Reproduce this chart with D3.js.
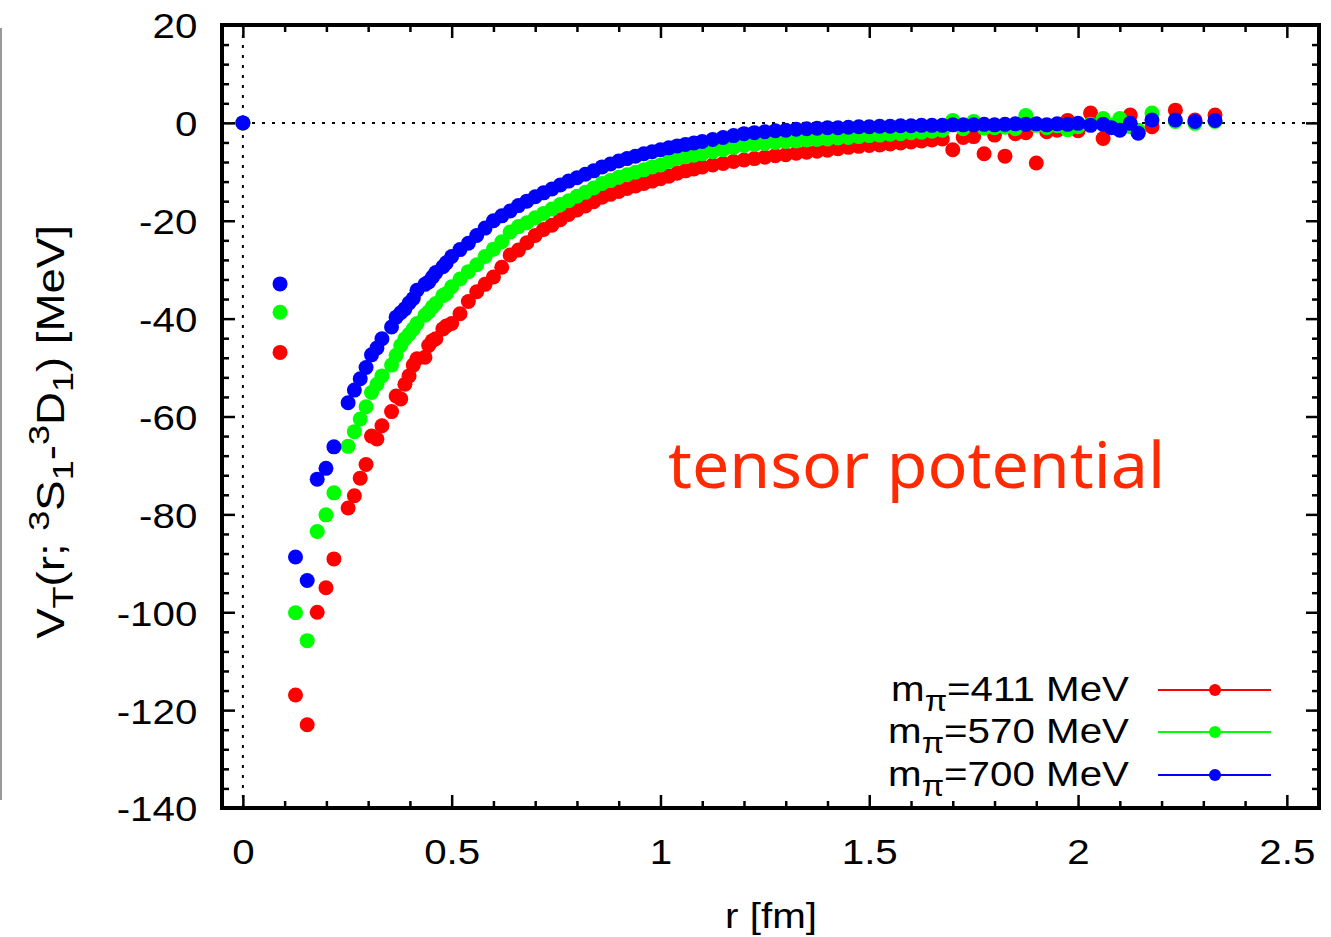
<!DOCTYPE html>
<html>
<head>
<meta charset="utf-8">
<script src="https://cdn.jsdelivr.net/npm/d3@7"></script>
<style>
  body { margin: 0; background: #fff; }
  svg { display: block; }
  text { font-family: "Liberation Sans", Arial, Helvetica, sans-serif; fill: #000; }
</style>
</head>
<body>
<svg id="chart" width="1331" height="937"></svg>
<script>
// lattice distances r [fm] (shared by the three data sets)
const rValues = [0, 0.089, 0.126, 0.154, 0.178, 0.199, 0.218, 0.252, 0.267, 0.281, 0.295, 0.308, 0.321, 0.333, 0.356, 0.367, 0.378, 0.388, 0.398, 0.408, 0.417, 0.436, 0.445, 0.454, 0.462, 0.479, 0.487,
  0.50, 0.52, 0.54, 0.56, 0.58, 0.60, 0.62, 0.64, 0.66, 0.68, 0.70, 0.72, 0.74, 0.76, 0.78, 0.80, 0.82, 0.84, 0.86, 0.88, 0.90, 0.92, 0.94, 0.96, 0.98, 1.00, 1.02, 1.04, 1.06, 1.08, 1.10,
  1.125, 1.15, 1.175, 1.20, 1.225, 1.25, 1.275, 1.30, 1.325, 1.35, 1.375, 1.40, 1.425, 1.45, 1.475, 1.50, 1.525, 1.55, 1.575, 1.60, 1.625, 1.65, 1.675, 1.70, 1.725, 1.75, 1.775, 1.80, 1.825, 1.85, 1.875, 1.90, 1.925, 1.95, 1.975, 2.00,
  2.03, 2.06, 2.08, 2.10, 2.125, 2.144, 2.177, 2.233, 2.28, 2.328]

// V_T [MeV], m_pi = 411 MeV
const v411 = [0, -46.9, -116.9, -123.0, -100.0, -95.0, -89.1, -78.7, -76.2, -72.6, -69.8, -64.0, -64.6, -61.9, -59.0, -55.8, -56.4, -53.4, -51.7, -49.5, -48.2, -47.9, -45.5, -44.5, -44.1, -42.1, -41.5,
  -41.0, -39.0, -36.5, -34.5, -33.0, -31.5, -29.5, -27.0, -26.0, -24.5, -23.0, -21.8, -20.9, -19.8, -18.7, -17.8, -17.0, -16.1, -15.2, -14.6, -14.0, -13.4, -12.9, -12.4, -11.9, -11.4, -10.9, -10.3, -9.8, -9.4, -9.0,
  -8.6, -8.3, -7.9, -7.6, -7.3, -7.0, -6.7, -6.5, -6.2, -6.0, -5.8, -5.6, -5.3, -5.0, -4.8, -4.6, -4.5, -4.3, -4.1, -3.9, -3.7, -3.5, -3.3, -5.5, -3.0, -2.8, -6.3, -2.5, -6.8, -2.2, -2.0, -8.2, -1.8, -1.5, 0.5, -1.6,
  2.0, -3.2, -0.5, -1.0, 1.6, -1.8, -0.8, 2.6, 0.6, 1.6]

// m_pi = 570 MeV
const v570 = [0, -38.7, -100.1, -105.8, -83.5, -80.1, -75.6, -66.1, -63.1, -60.5, -58.0, -55.1, -53.4, -51.7, -49.5, -47.5, -45.5, -44.1, -43.2, -42.1, -41.0, -39.3, -38.6, -37.6, -36.9, -35.3, -34.9,
  -33.5, -31.9, -30.4, -29.0, -27.3, -25.8, -24.3, -22.3, -21.2, -20.4, -19.4, -18.5, -17.6, -16.7, -15.9, -15.0, -14.2, -13.3, -12.4, -11.8, -11.1, -10.6, -10.1, -9.6, -9.0, -8.6, -7.9, -7.3, -6.9, -6.6, -6.3,
  -5.9, -5.5, -5.0, -4.6, -4.4, -4.2, -4.0, -3.8, -3.7, -3.5, -3.4, -3.3, -3.1, -3.0, -2.8, -2.6, -2.5, -2.3, -2.2, -2.0, -1.9, -1.7, -1.5, 0.5, -1.2, 0.3, -1.1, -1.0, -0.9, -1.2, 1.5, -0.5, -1.0, -0.6, -1.4, -0.8,
  -0.3, 0.9, -0.5, 0.9, -0.8, -1.5, 2.0, 0.3, -0.1, 0.3]

// m_pi = 700 MeV
const v700 = [0, -32.9, -88.7, -93.5, -72.8, -70.6, -66.2, -57.2, -54.6, -52.3, -50.0, -47.4, -46.0, -44.1, -41.7, -39.7, -38.8, -38.0, -36.8, -35.9, -34.2, -33.0, -32.5, -31.5, -30.6, -29.4, -28.6,
  -27.3, -25.9, -24.6, -23.0, -21.5, -20.0, -19.0, -18.0, -16.9, -16.0, -15.1, -14.3, -13.5, -12.7, -11.9, -11.2, -10.5, -9.8, -9.0, -8.4, -7.8, -7.3, -6.8, -6.3, -5.9, -5.5, -5.1, -4.7, -4.4, -4.1, -3.8,
  -3.4, -3.0, -2.6, -2.2, -2.0, -1.8, -1.6, -1.5, -1.3, -1.2, -1.1, -1.0, -1.0, -0.9, -0.8, -0.8, -0.7, -0.7, -0.6, -0.6, -0.5, -0.5, -0.5, -0.4, -0.4, -0.4, -0.3, -0.4, -0.3, -0.2, -0.3, -0.2, -0.4, -0.2, -0.3, -0.1,
  -0.5, -0.3, -1.0, -1.5, -0.1, -2.1, 0.6, 0.6, 0.3, 0.5]

const seriesNames = ["411", "570", "700"]
const seriesColors = ["#ff0000", "#00ff00", "#0000ff"]
const seriesValues = [v411, v570, v700]

const xTicks = [0, 0.5, 1, 1.5, 2, 2.5]
const yTicks = [20, 0, -20, -40, -60, -80, -100, -120, -140]

const svg = d3.select("#chart")
const margin = { top: 25, right: 12, bottom: 129, left: 222 }
const width = 1331 - margin.left - margin.right
const height = 937 - margin.top - margin.bottom

const x = d3.scaleLinear().domain([-0.05, 2.577]).range([0, width])
const y = d3.scaleLinear().domain([-140, 20]).range([height, 0])

const stretch = "scale(1.12,1)"
const fontSize = 36

// stray edge line at the far left of the picture
svg.append("line")
  .attr("x1", 1).attr("x2", 1).attr("y1", 28).attr("y2", 800)
  .attr("stroke", "#999").attr("stroke-width", 2)

const g = svg.append("g").attr("transform", `translate(${margin.left},${margin.top})`)

// zero lines
g.append("line")
  .attr("x1", 0).attr("x2", width).attr("y1", y(0)).attr("y2", y(0))
  .attr("stroke", "#000").attr("stroke-width", 2).attr("stroke-dasharray", "3,7")
g.append("line")
  .attr("x1", x(0)).attr("x2", x(0)).attr("y1", 0).attr("y2", height)
  .attr("stroke", "#000").attr("stroke-width", 2).attr("stroke-dasharray", "3,7")

// points
seriesValues.forEach((vals, i) => {
  g.append("g")
    .selectAll("circle")
    .data(vals)
    .enter()
    .append("circle")
    .attr("cx", (d, j) => x(rValues[j]))
    .attr("cy", (d) => y(d))
    .attr("r", 7.5)
    .attr("fill", seriesColors[i])
})

// ticks (all inward), minor ticks first
const xMinor = d3.range(0, 2.55, 0.1).filter((t) => Math.abs(t * 2 - Math.round(t * 2)) > 1e-6)
const yMinor = d3.range(-140, 20, 4).filter((t) => t % 20 !== 0)

function styleAxis(sel) {
  sel.select(".domain").remove()
  sel.selectAll("line").attr("stroke", "#000").attr("stroke-width", 2.5)
}

g.append("g").attr("transform", `translate(0,${height})`)
  .call(d3.axisBottom(x).tickValues(xMinor).tickSize(-7).tickFormat(""))
  .call(styleAxis)
g.append("g").call(d3.axisTop(x).tickValues(xMinor).tickSize(-7).tickFormat("")).call(styleAxis)
g.append("g").call(d3.axisLeft(y).tickValues(yMinor).tickSize(-7).tickFormat("")).call(styleAxis)
g.append("g").attr("transform", `translate(${width},0)`)
  .call(d3.axisRight(y).tickValues(yMinor).tickSize(-7).tickFormat(""))
  .call(styleAxis)

const plain = (d) => String(d)
const xAxis = g.append("g").attr("transform", `translate(0,${height})`)
  .call(d3.axisBottom(x).tickValues(xTicks).tickSize(-13).tickPadding(30).tickFormat(plain))
  .call(styleAxis)
g.append("g").call(d3.axisTop(x).tickValues(xTicks).tickSize(-13).tickFormat("")).call(styleAxis)
const yAxis = g.append("g")
  .call(d3.axisLeft(y).tickValues(yTicks).tickSize(-13).tickPadding(22).tickFormat(plain))
  .call(styleAxis)
g.append("g").attr("transform", `translate(${width},0)`)
  .call(d3.axisRight(y).tickValues(yTicks).tickSize(-13).tickFormat(""))
  .call(styleAxis)

xAxis.selectAll("text").attr("font-size", fontSize).attr("font-family", null).attr("transform", stretch)
yAxis.selectAll("text").attr("font-size", fontSize).attr("font-family", null).attr("transform", stretch)
  .attr("dy", "0.36em")

// frame
g.append("rect")
  .attr("width", width).attr("height", height)
  .attr("fill", "none").attr("stroke", "#000").attr("stroke-width", 4)

// axis titles
svg.append("text")
  .attr("transform", `translate(771,928) ${stretch}`)
  .attr("text-anchor", "middle")
  .attr("font-size", fontSize)
  .text("r [fm]")

const yTitle = svg.append("text")
  .attr("transform", "translate(64,432) rotate(-90) scale(1.2,1)")
  .attr("text-anchor", "middle")
  .attr("font-size", 38)
yTitle.append("tspan").text("V")
yTitle.append("tspan").attr("font-size", 30).attr("dy", 9).text("T")
yTitle.append("tspan").attr("dy", -9).text("(r; ")
yTitle.append("tspan").attr("font-size", 30).attr("dy", -15).text("3")
yTitle.append("tspan").attr("dy", 15).text("S")
yTitle.append("tspan").attr("font-size", 30).attr("dy", 9).text("1")
yTitle.append("tspan").attr("dy", -9).text("-")
yTitle.append("tspan").attr("font-size", 30).attr("dy", -15).text("3")
yTitle.append("tspan").attr("dy", 15).text("D")
yTitle.append("tspan").attr("font-size", 30).attr("dy", 9).text("1")
yTitle.append("tspan").attr("dy", -9).text(") [MeV]")

// annotation
svg.append("text")
  .attr("x", 668).attr("y", 488)
  .attr("font-size", 64)
  .attr("textLength", 497).attr("lengthAdjust", "spacingAndGlyphs")
  .style("font-family", "'Noto Sans', 'Open Sans', sans-serif")
  .style("fill", "#ff2a00")
  .text("tensor potential")

// legend
const legendY = [690, 732, 775]
seriesNames.forEach((name, i) => {
  const t = svg.append("text")
    .attr("transform", `translate(1129,${legendY[i] + 11}) ${stretch}`)
    .attr("text-anchor", "end")
    .attr("font-size", fontSize)
  t.append("tspan").text("m")
  t.append("tspan").attr("font-size", 29).attr("dy", 10).text("π")
  t.append("tspan").attr("dy", -10).text(`=${name} MeV`)

  svg.append("line")
    .attr("x1", 1158).attr("x2", 1271).attr("y1", legendY[i]).attr("y2", legendY[i])
    .attr("stroke", seriesColors[i]).attr("stroke-width", 2)
  svg.append("circle")
    .attr("cx", 1215).attr("cy", legendY[i]).attr("r", 6)
    .attr("fill", seriesColors[i])
})
</script>
</body>
</html>
